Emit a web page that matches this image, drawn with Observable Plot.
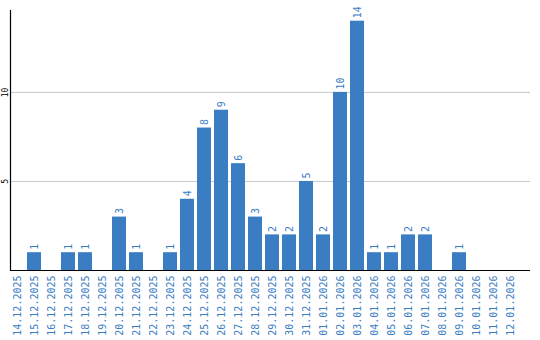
<!DOCTYPE html>
<html>
<head>
<meta charset="utf-8">
<script src="https://cdn.jsdelivr.net/npm/d3@7"></script>
<script src="https://cdn.jsdelivr.net/npm/@observablehq/plot@0.6"></script>
<style>
  html, body { margin: 0; padding: 0; background: #fff; }
  svg { display: block; }
</style>
</head>
<body>
<div id="chart"></div>
<script>
const dates = ["14.12.2025","15.12.2025","16.12.2025","17.12.2025","18.12.2025","19.12.2025","20.12.2025","21.12.2025","22.12.2025","23.12.2025","24.12.2025","25.12.2025","26.12.2025","27.12.2025","28.12.2025","29.12.2025","30.12.2025","31.12.2025","01.01.2026","02.01.2026","03.01.2026","04.01.2026","05.01.2026","06.01.2026","07.01.2026","08.01.2026","09.01.2026","10.01.2026","11.01.2026","12.01.2026"];
const values = [0,1,0,1,1,0,3,1,0,1,4,8,9,6,3,2,2,5,2,10,14,1,1,2,2,0,1,0,0,0];
const yTicks = [5, 10];

const data = dates.map((d, i) => ({date: d, value: values[i]}));
const blue = "#3a7dc2";
const mono = "DejaVu Sans Mono, monospace";

const chart = Plot.plot({
  width: 540,
  height: 340,
  marginLeft: 10,
  marginRight: 10,
  marginTop: 10,
  marginBottom: 70,
  style: {fontFamily: mono, background: "#fff"},
  x: {type: "band", domain: dates, range: [10, 517], paddingInner: 3/17, paddingOuter: 0, align: 0, axis: null},
  y: {domain: [0, 14.6], range: [270, 10], axis: null},
  marks: [
    Plot.ruleY(yTicks, {stroke: "#c8c8c8", strokeWidth: 1}),
    Plot.barY(data, {x: "date", y: "value", fill: blue}),
    Plot.text(data.filter(d => d.value > 0), {
      x: "date", y: "value", text: d => String(d.value),
      rotate: -90, textAnchor: "start", dy: -3, fill: blue,
      fontSize: 10, fontFamily: mono
    }),
    Plot.axisX({tickSize: 0, tickPadding: 5, tickRotate: -90, fill: blue, fontSize: 10, fontFamily: mono, label: null}),
    Plot.text(yTicks, {
      y: d => d, text: d => String(d), frameAnchor: "left", dx: -5,
      rotate: -90, textAnchor: "middle", fill: "#000", fontSize: 8, fontFamily: mono
    }),
    Plot.ruleY([0], {stroke: "#000", strokeWidth: 1.2}),
    Plot.frame({anchor: "left", stroke: "#000", strokeWidth: 1.2})
  ]
});
document.getElementById("chart").appendChild(chart);
</script>
</body>
</html>
